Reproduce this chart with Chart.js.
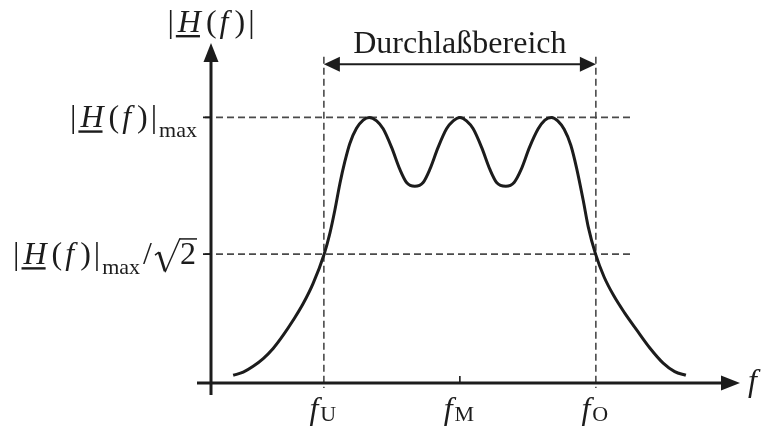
<!DOCTYPE html>
<html lang="de">
<head>
<meta charset="UTF-8">
<title>Bandpass – Durchlaßbereich</title>
<script src="https://cdn.jsdelivr.net/npm/chart.js@4.4.0/dist/chart.umd.min.js"></script>
<style>
  html, body { margin: 0; padding: 0; background: #fff; }
</style>
</head>
<body>
<canvas id="myChart" width="764" height="427"></canvas>
<script>
// frequency axis: fM at 0, band edges fU / fO at -1 / +1
const freqs = [-1.667, -1.593, -1.520, -1.446, -1.373, -1.299, -1.226, -1.152, -1.079, -0.998,
               -0.956, -0.919, -0.882, -0.846, -0.809, -0.760, -0.711, -0.667, -0.612, -0.564,
               -0.502, -0.441, -0.392, -0.331, -0.270, -0.221, -0.160, -0.098, -0.049, 0,
               0.049, 0.098, 0.160, 0.221, 0.270, 0.338, 0.399, 0.451, 0.512, 0.576,
               0.625, 0.674, 0.720, 0.767, 0.816, 0.858, 0.907, 0.944, 0.998, 1.060,
               1.130, 1.210, 1.300, 1.400, 1.495, 1.580, 1.662];
// |H(f)| relative to the ripple maximum
const gain = [0.029, 0.041, 0.063, 0.092, 0.130, 0.180, 0.236, 0.299, 0.375, 0.485,
              0.563, 0.651, 0.751, 0.833, 0.902, 0.959, 0.990, 1.0, 0.987, 0.957,
              0.887, 0.804, 0.755, 0.741, 0.755, 0.804, 0.887, 0.957, 0.987, 1.0,
              0.987, 0.957, 0.887, 0.804, 0.755, 0.741, 0.755, 0.804, 0.887, 0.957,
              0.990, 1.0, 0.987, 0.955, 0.895, 0.810, 0.688, 0.588, 0.485, 0.400,
              0.330, 0.265, 0.200, 0.130, 0.075, 0.043, 0.029];

// marked frequencies and their subscripts
const fMarks = [-1, 0, 1];
const fSubs = ['U', 'M', 'O'];

// guide levels (not to scale, as in the sketch)
const hMax = 1.0;
const hCut = 0.485;

const xRange = [-1.83, 2.06];
const yRange = [0, 1.28];

const SERIF = "'Liberation Serif', 'DejaVu Serif', serif";
const INK = '#1c1c1c';
const DASH = '#4a4a4a';

// draws a row of text pieces (italic letters, subscripts, underline, root sign)
function drawRuns(ctx, runs, x, y, align) {
  let total = 0;
  runs.forEach(r => {
    if (r.rad) {
      r.w = r.rad;
    } else {
      ctx.font = r.f;
      r.w = ctx.measureText(r.t).width;
    }
    total += r.w + (r.gap || 0);
  });
  let cx = x;
  if (align === 'right') cx = x - total;
  if (align === 'center') cx = x - total / 2;
  ctx.textBaseline = 'alphabetic';
  ctx.textAlign = 'left';
  ctx.fillStyle = INK;
  ctx.strokeStyle = INK;
  ctx.lineJoin = 'miter';
  runs.forEach(r => {
    if (r.rad) {
      // hook, heavy down stroke, thin up stroke
      ctx.lineWidth = 1.4;
      ctx.beginPath();
      ctx.moveTo(cx + 1, y - 9);
      ctx.lineTo(cx + 5, y - 12);
      ctx.stroke();
      ctx.lineWidth = 2.8;
      ctx.beginPath();
      ctx.moveTo(cx + 5, y - 12);
      ctx.lineTo(cx + 11, y + 7);
      ctx.stroke();
      ctx.lineWidth = 1.4;
      ctx.beginPath();
      ctx.moveTo(cx + 11, y + 8);
      ctx.lineTo(cx + r.w, y - 26);
      ctx.stroke();
    } else {
      ctx.font = r.f;
      ctx.fillText(r.t, cx, y + (r.dy || 0));
    }
    if (r.ul) {
      ctx.fillRect(cx - 2, y + 3, r.w + 1, 2.4);
    }
    if (r.over) {
      ctx.fillRect(cx + r.over[0], y + r.over[1], r.w - r.over[0] + 1, 1.5);
    }
    cx += r.w + (r.gap || 0);
  });
  return total;
}

function absH(size) {
  const up = size + 'px ' + SERIF;
  const it = 'italic ' + size + 'px ' + SERIF;
  return [
    { t: '|', f: up, gap: 4 },
    { t: 'H', f: it, ul: true, gap: 5 },
    { t: '(', f: up, gap: 3 },
    { t: 'f', f: it, gap: 6 },
    { t: ')', f: up, gap: 3 },
    { t: '|', f: up, gap: 2 }
  ];
}

function arrowHead(ctx, tx, ty, dx, dy, len, half) {
  // tip at (tx,ty), pointing along (dx,dy)
  const bx = tx - dx * len, by = ty - dy * len;
  ctx.beginPath();
  ctx.moveTo(tx, ty);
  ctx.lineTo(bx - dy * half, by + dx * half);
  ctx.lineTo(bx + dy * half, by - dx * half);
  ctx.closePath();
  ctx.fill();
}

const sketchPlugin = {
  id: 'sketch',
  beforeDatasetsDraw(chart) {
    const ctx = chart.ctx;
    const xs = chart.scales.x, ys = chart.scales.y;
    const X = v => xs.getPixelForValue(v);
    const Y = v => ys.getPixelForValue(v);
    const x0 = X(xRange[0]), y0 = Y(0);
    const area = chart.chartArea;

    ctx.save();
    // dashed guides
    ctx.strokeStyle = DASH;
    ctx.lineWidth = 1.6;
    ctx.setLineDash([7, 4]);
    [hMax, hCut].forEach(h => {
      ctx.beginPath();
      ctx.moveTo(x0 - 6, Y(h));
      ctx.lineTo(X(1.27), Y(h));
      ctx.stroke();
    });
    [fMarks[0], fMarks[2]].forEach(f => {
      ctx.beginPath();
      ctx.moveTo(X(f), Y(1.228));
      ctx.lineTo(X(f), y0 + 5);
      ctx.stroke();
    });
    ctx.setLineDash([]);

    // axes with arrows
    ctx.strokeStyle = INK;
    ctx.fillStyle = INK;
    ctx.lineWidth = 3;
    ctx.beginPath();
    ctx.moveTo(x0, y0 + 12);
    ctx.lineTo(x0, area.top + 14);
    ctx.moveTo(x0 - 14, y0);
    ctx.lineTo(area.right - 14, y0);
    ctx.stroke();
    arrowHead(ctx, x0, area.top, 0, -1, 19, 7.5);
    arrowHead(ctx, area.right, y0, 1, 0, 19, 7.5);

    // tick at fM and short ticks left of the y axis
    ctx.lineWidth = 1.6;
    ctx.beginPath();
    ctx.moveTo(X(fMarks[1]), y0 - 7);
    ctx.lineTo(X(fMarks[1]), y0);
    [hMax, hCut].forEach(h => {
      ctx.moveTo(x0 - 8, Y(h));
      ctx.lineTo(x0, Y(h));
    });
    ctx.stroke();

    // pass band arrow
    const ya = Y(1.2);
    ctx.lineWidth = 2;
    ctx.beginPath();
    ctx.moveTo(X(-1) + 12, ya);
    ctx.lineTo(X(1) - 12, ya);
    ctx.stroke();
    arrowHead(ctx, X(-1), ya, -1, 0, 16, 7.5);
    arrowHead(ctx, X(1), ya, 1, 0, 16, 7.5);
    ctx.restore();
  },
  afterDraw(chart) {
    const ctx = chart.ctx;
    const xs = chart.scales.x, ys = chart.scales.y;
    const X = v => xs.getPixelForValue(v);
    const Y = v => ys.getPixelForValue(v);
    const x0 = X(xRange[0]), y0 = Y(0);
    const S = 32, s = 22;
    const up = S + 'px ' + SERIF;
    const sub = s + 'px ' + SERIF;

    ctx.save();
    // axis titles
    drawRuns(ctx, absH(S), x0 + 1, 32, 'center');
    drawRuns(ctx, [{ t: 'f', f: 'italic ' + S + 'px ' + SERIF }], chart.chartArea.right + 8, y0 + 8, 'left');

    // y labels
    drawRuns(ctx, absH(S).concat([{ t: 'max', f: sub, dy: 10 }]), x0 - 14, Y(hMax) + 10, 'right');
    drawRuns(ctx, absH(S).concat([
      { t: 'max', f: sub, dy: 10, gap: 3 },
      { t: '/', f: up, gap: 2 },
      { rad: 26 },
      { t: '2', f: up, gap: 1, over: [0, -26] }
    ]), x0 - 14, Y(hCut) + 10, 'right');

    // f axis labels
    fMarks.forEach((f, i) => {
      drawRuns(ctx, [
        { t: 'f', f: 'italic ' + S + 'px ' + SERIF, gap: 2 },
        { t: fSubs[i], f: sub, dy: 2 }
      ], X(f) - 1, 419, 'center');
    });

    // pass band caption
    drawRuns(ctx, [{ t: 'Durchlaßbereich', f: '32px ' + SERIF }], (X(-1) + X(1)) / 2, 53, 'center');
    ctx.restore();
  }
};

const ctx = document.getElementById('myChart').getContext('2d');
const myChart = new Chart(ctx, {
  type: 'scatter',
  data: {
    datasets: [{
      data: freqs.map((f, i) => ({ x: f, y: gain[i] })),
      showLine: true,
      borderColor: INK,
      borderWidth: 3,
      pointRadius: 0,
      cubicInterpolationMode: 'monotone',
      fill: false
    }]
  },
  options: {
    responsive: false,
    animation: false,
    layout: { padding: { left: 211, right: 24, top: 43, bottom: 44 } },
    scales: {
      x: { type: 'linear', display: false, min: xRange[0], max: xRange[1] },
      y: { type: 'linear', display: false, min: yRange[0], max: yRange[1] }
    },
    plugins: { legend: { display: false }, tooltip: { enabled: false } }
  },
  plugins: [sketchPlugin]
});
</script>
</body>
</html>
